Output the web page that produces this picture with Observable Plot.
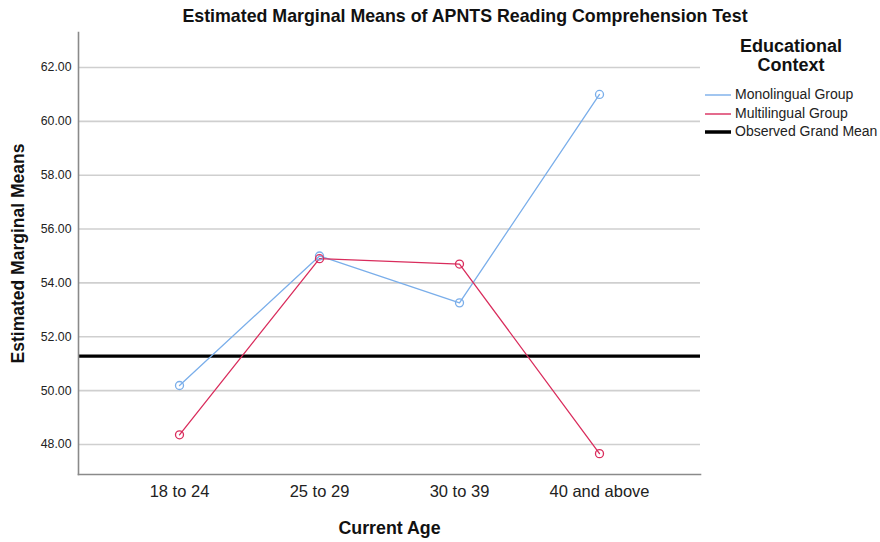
<!DOCTYPE html>
<html><head><meta charset="utf-8">
<script src="https://cdn.jsdelivr.net/npm/d3@7"></script>
<script src="https://cdn.jsdelivr.net/npm/@observablehq/plot@0.6"></script>
<style>
body{margin:0;background:#fff;font-family:"Liberation Sans",Arial,sans-serif;}
#wrap{position:relative;width:880px;height:542px;}
#title{position:absolute;left:0;width:930px;top:6px;text-align:center;font-weight:bold;font-size:17.8px;color:#111;}
#legend{position:absolute;left:700px;top:37px;width:180px;font-size:14px;color:#222;}
#legend .lt{text-align:center;font-weight:bold;font-size:18px;line-height:19px;margin-left:2px;color:#111;}
#legend .row{position:absolute;left:5px;white-space:nowrap;line-height:16px;}
#legend svg{vertical-align:middle;margin-right:4px;}
</style></head>
<body>
<div id="wrap">
<div id="title">Estimated Marginal Means of APNTS Reading Comprehension Test</div>
<div id="legend"></div>
</div>
<script>
const ages = ["18 to 24", "25 to 29", "30 to 39", "40 and above"];
const groups = ["Monolingual Group", "Multilingual Group"];
const monolingual = [50.19, 55.0, 53.26, 61.0];
const multilingual = [48.36, 54.9, 54.7, 47.66];
const grandMean = 51.28;
const yTicks = [48, 50, 52, 54, 56, 58, 60, 62];
const colors = ["#7aaeea", "#d92c5c"];

const rows = [];
ages.forEach((a, i) => {
  rows.push({age: a, value: monolingual[i], group: groups[0]});
  rows.push({age: a, value: multilingual[i], group: groups[1]});
});

const chart = Plot.plot({
  width: 880, height: 542,
  marginLeft: 78, marginRight: 180, marginTop: 32, marginBottom: 68,
  style: {fontFamily: "Liberation Sans, Arial, sans-serif", background: "transparent"},
  x: {type: "point", domain: ages, padding: 0.71, label: null},
  y: {domain: [46.885, 63.3], label: null},
  color: {domain: groups, range: colors},
  marks: [
    Plot.gridY(yTicks, {stroke: "#cfcfcf", strokeOpacity: 1, strokeWidth: 1.6}),
    Plot.ruleY([grandMean], {stroke: "#000", strokeWidth: 3.2}),
    Plot.line(rows, {x: "age", y: "value", z: "group", stroke: "group", strokeWidth: 1.3}),
    Plot.dot(rows, {x: "age", y: "value", stroke: "group", r: 4, strokeWidth: 1.3, fill: "none"}),
    Plot.frame({anchor: "left", stroke: "#8a8a8a", strokeWidth: 1.6}),
    Plot.frame({anchor: "bottom", stroke: "#8a8a8a", strokeWidth: 1.6}),
    Plot.axisY(yTicks, {tickFormat: d => d.toFixed(2), tickSize: 0, tickPadding: 7, fontSize: 12.3, fill: "#222", label: null}),
    Plot.axisX({tickSize: 0, tickPadding: 11, fontSize: 16.5, fill: "#222", label: null}),
    Plot.text(["Estimated Marginal Means"], {frameAnchor: "left", dx: -60, rotate: -90, textAnchor: "middle", fontWeight: "bold", fontSize: 17.5, fill: "#111"}),
    Plot.text(["Current Age"], {frameAnchor: "bottom", dy: 59, textAnchor: "middle", fontWeight: "bold", fontSize: 17.8, fill: "#111"})
  ]
});
document.getElementById("wrap").appendChild(chart);

const leg = document.getElementById("legend");
leg.innerHTML = '<div class="lt">Educational<br>Context</div>';
const items = [
  {label: groups[0], color: colors[0], w: 1.4},
  {label: groups[1], color: colors[1], w: 1.4},
  {label: "Observed Grand Mean", color: "#000", w: 3.5}
];
items.forEach((it, i) => {
  const d = document.createElement("div");
  d.className = "row";
  d.style.top = (49 + i * 18.5) + "px";
  d.innerHTML = `<svg width="26" height="8"><line x1="0" x2="26" y1="4" y2="4" stroke="${it.color}" stroke-width="${it.w}"/></svg>${it.label}`;
  leg.appendChild(d);
});
</script>
</body></html>
